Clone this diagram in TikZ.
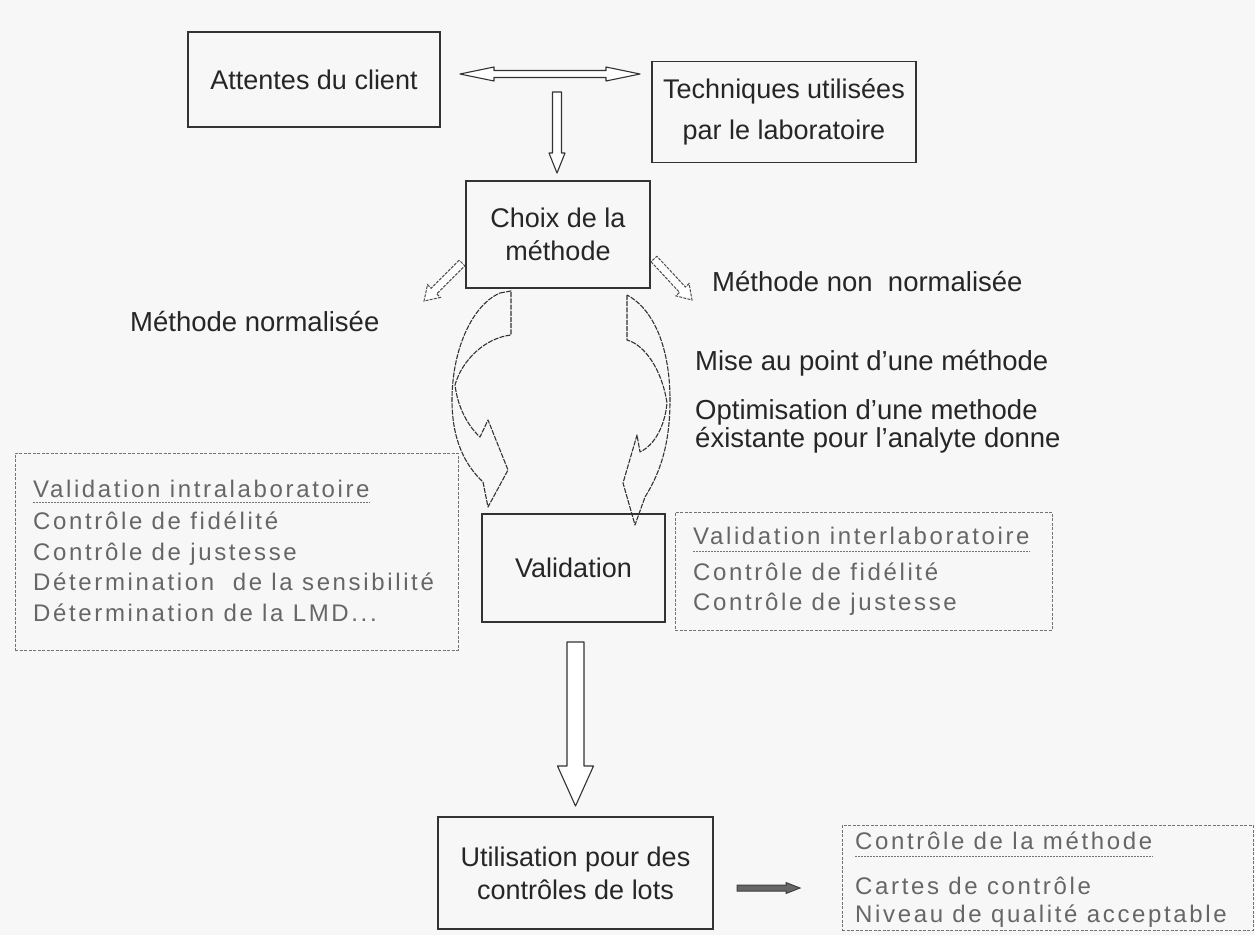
\documentclass[tikz,border=0pt]{standalone}
\usepackage{fontspec}
\setmainfont{Liberation Sans}
\newfontfamily\spacedfont[LetterSpace=11]{Liberation Sans}
\usetikzlibrary{calc}
\tikzset{
  box/.style={draw=black!80, line width=1.3pt, rectangle, inner sep=0pt, align=center,
    text=black!85, font=\fontsize{27}{33}\selectfont},
  dbox/.style={draw=black!55, line width=0.9pt, dash pattern=on 3pt off 1.5pt, rectangle, inner sep=0pt},
  lbl/.style={inner sep=0pt, text=black!85, font=\fontsize{27.5}{33}\selectfont},
  dtxt/.style={inner sep=0pt, text=black!60, font=\spacedfont\fontsize{24}{28}\selectfont},
  uline/.style={draw=black!55, line width=0.8pt, dash pattern=on 2pt off 1pt},
  harrow/.style={draw=black!80, line width=1.1pt, fill=white, line join=round},
  darrow/.style={draw=black!70, line width=1pt, dash pattern=on 3pt off 1.2pt, fill=white},
  farrow/.style={draw=black!75, line width=1pt, fill=black!60},
  curv/.style={draw=black!80, line width=1.1pt, dash pattern=on 5pt off 1.2pt, line join=round}
}
% hollow single arrow: [style]{from}{to}{shaft half}{head half}{head length}
\newcommand\hollowarrow[6][harrow]{%
  \path[#1] let \p1=($(#3)-(#2)$), \n1={atan2(\y1,\x1)}, \n2={veclen(\x1,\y1)} in
    [shift={(#2)},rotate=\n1]
    (0pt,-#4pt) -- ({\n2-#6pt},-#4pt) -- ({\n2-#6pt},-#5pt) -- (\n2,0pt)
    -- ({\n2-#6pt},#5pt) -- ({\n2-#6pt},#4pt) -- (0pt,#4pt) -- cycle;}
% hollow double arrow
\newcommand\hollowdbl[6][harrow]{%
  \path[#1] let \p1=($(#3)-(#2)$), \n1={atan2(\y1,\x1)}, \n2={veclen(\x1,\y1)} in
    [shift={(#2)},rotate=\n1]
    (0pt,0pt) -- (#6pt,-#5pt) -- (#6pt,-#4pt) -- ({\n2-#6pt},-#4pt) -- ({\n2-#6pt},-#5pt)
    -- (\n2,0pt) -- ({\n2-#6pt},#5pt) -- ({\n2-#6pt},#4pt) -- (#6pt,#4pt) -- (#6pt,#5pt) -- cycle;}
\begin{document}
\begin{tikzpicture}[x=1pt,y=1pt]
\useasboundingbox[fill=black!3] (0,0) rectangle (1255,-935);

% main boxes
\node[box, minimum width=252pt, minimum height=95pt] (att) at (314,-79.5) {Attentes du client};
\node[box, minimum width=264pt, minimum height=101pt] (tech) at (784,-112) {Techniques utilisées\\[8pt]par le laboratoire};
\node[box, minimum width=184pt, minimum height=107pt] (choix) at (558,-234.5) {Choix de la\\méthode};
\node[box, minimum width=183pt, minimum height=108pt] (valid) at (573.5,-568) {Validation};
\node[box, minimum width=275pt, minimum height=112pt] (util) at (575.5,-873) {Utilisation pour des\\contrôles de lots};

% labels
\node[lbl, anchor=west] (mn) at (130,-322) {Méthode normalisée};
\node[lbl, anchor=west] (mnn) at (712,-282) {Méthode non\ \ normalisée};
\node[lbl, anchor=west] (mise) at (695,-363) {Mise au point d'une méthode};
\node[lbl, anchor=west] (opt1) at (695,-412) {Optimisation d'une methode};
\node[lbl, anchor=west] (opt2) at (695,-440) {éxistante pour l'analyte donne};

% dashed boxes
\node[dbox, minimum width=443pt, minimum height=197pt] (intra) at (236.5,-551.5) {};
\node[dbox, minimum width=377pt, minimum height=118pt] (inter) at (863.5,-571) {};
\node[dbox, minimum width=411pt, minimum height=105pt] (ctrl) at (1047.5,-877.5) {};

\node[dtxt, anchor=base west] (i1) at (33,-497) {Validation intralaboratoire};
\node[dtxt, anchor=base west] (i2) at (33,-529) {Contrôle de fidélité};
\node[dtxt, anchor=base west] (i3) at (33,-560) {Contrôle de justesse};
\node[dtxt, anchor=base west] (i4) at (33,-590) {Détermination\ \ de la sensibilité};
\node[dtxt, anchor=base west] (i5) at (33,-621) {Détermination de la LMD...};
\draw[uline] ($(i1.base west)+(0,-5)$) -- ($(i1.base east)+(0,-5)$);

\node[dtxt, anchor=base west] (e1) at (693,-544) {Validation interlaboratoire};
\node[dtxt, anchor=base west] (e2) at (693,-580) {Contrôle de fidélité};
\node[dtxt, anchor=base west] (e3) at (693,-610) {Contrôle de justesse};
\draw[uline] ($(e1.base west)+(0,-7)$) -- ($(e1.base east)+(0,-7)$);

\node[dtxt, anchor=base west] (c1) at (855,-849) {Contrôle de la méthode};
\node[dtxt, anchor=base west] (c2) at (855,-894) {Cartes de contrôle};
\node[dtxt, anchor=base west] (c3) at (855,-922) {Niveau de qualité acceptable};
\draw[uline] ($(c1.base west)+(0,-7)$) -- ($(c1.base east)+(0,-7)$);

% arrow end points
\coordinate (dA) at (460,-74);
\coordinate (dB) at (640,-74);
\coordinate (tA) at (557,-92);
\coordinate (tB) at (557,-173);
\coordinate (sLA) at (462,-263);
\coordinate (sLB) at (424,-301);
\coordinate (sRA) at (654,-259);
\coordinate (sRB) at (692,-300);
\coordinate (mA) at (575.5,-642);
\coordinate (mB) at (575.5,-806);
\coordinate (bA) at (737,-888);
\coordinate (bB) at (800,-888);

\hollowdbl{dA}{dB}{3.5}{7}{34}
\hollowarrow{tA}{tB}{4.5}{8}{20}
\hollowarrow[darrow]{sLA}{sLB}{4}{9}{14}
\hollowarrow[darrow]{sRA}{sRB}{4}{9}{14}
\hollowarrow{mA}{mB}{8.5}{18}{40}
\hollowarrow[farrow]{bA}{bB}{3}{5.5}{14}

% curved arrows
\draw[curv] (500,-293) -- (511,-291) -- (511,-335)
  .. controls (485,-338) and (462,-360) .. (455,-385)
  .. controls (458,-410) and (470,-428) .. (480,-437)
  -- (488,-420) -- (508,-470) -- (488,-507) -- (483,-482)
  .. controls (465,-465) and (452,-440) .. (452,-400)
  .. controls (452,-350) and (472,-305) .. (500,-293) -- cycle;
\draw[curv] (627,-295) -- (627,-340)
  .. controls (645,-345) and (662,-370) .. (667,-403)
  .. controls (665,-425) and (655,-445) .. (640,-452)
  -- (637,-435) -- (623,-483) -- (635,-525) -- (645,-497)
  .. controls (662,-470) and (670,-440) .. (670,-400)
  .. controls (670,-350) and (655,-310) .. (627,-295) -- cycle;
\end{tikzpicture}
\end{document}
